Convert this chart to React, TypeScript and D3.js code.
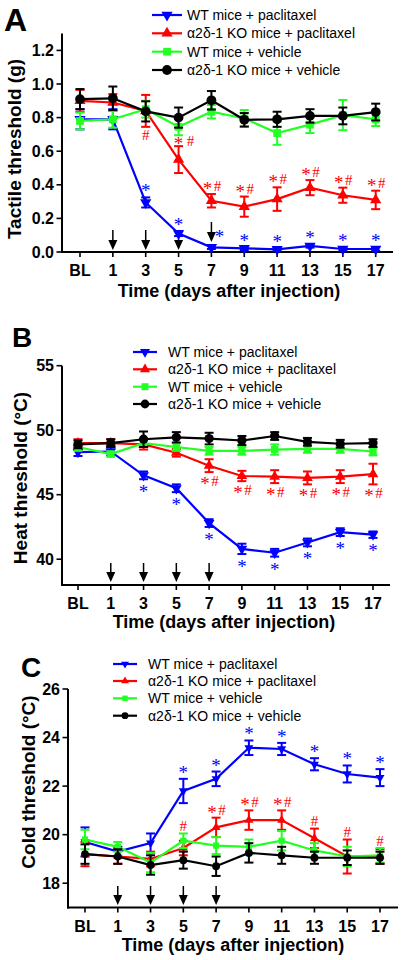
import React from "react";
import * as d3 from "d3";

// ---------- data ----------
const categories = ["BL", "1", "3", "5", "7", "9", "11", "13", "15", "17"];
const days = [-1, 1, 3, 5, 7, 9, 11, 13, 15, 17];
const injectionDays = [1, 3, 5, 7];
const seriesNames = [
  "WT mice + paclitaxel",
  "α2δ-1 KO mice + paclitaxel",
  "WT mice + vehicle",
  "α2δ-1 KO mice + vehicle",
];

// Panel A: tactile threshold (g)
const tactileWTPaclitaxel = [0.79, 0.79, 0.295, 0.11, 0.028, 0.022, 0.016, 0.036, 0.018, 0.018];
const tactileWTPaclitaxelSEM = [0.06, 0.06, 0.03, 0.015, 0.01, 0.01, 0.01, 0.01, 0.01, 0.01];
const tactileKOPaclitaxel = [0.9, 0.89, 0.84, 0.55, 0.305, 0.27, 0.315, 0.383, 0.338, 0.31];
const tactileKOPaclitaxelSEM = [0.065, 0.05, 0.095, 0.08, 0.04, 0.06, 0.07, 0.045, 0.045, 0.055];
const tactileWTVehicle = [0.78, 0.79, 0.85, 0.745, 0.835, 0.795, 0.708, 0.758, 0.815, 0.79];
const tactileWTVehicleSEM = [0.05, 0.05, 0.05, 0.05, 0.04, 0.05, 0.07, 0.05, 0.09, 0.04];
const tactileKOVehicle = [0.91, 0.915, 0.837, 0.8, 0.903, 0.787, 0.79, 0.81, 0.81, 0.833];
const tactileKOVehicleSEM = [0.06, 0.07, 0.06, 0.06, 0.055, 0.04, 0.045, 0.04, 0.05, 0.05];
const tactileTicks = [0, 0.2, 0.4, 0.6, 0.8, 1.0, 1.2];
const tactileWTPaclitaxelMarks = ["", "", "*", "*", "*", "*", "*", "*", "*", "*"];
const tactileKOPaclitaxelMarks = ["", "", "#", "* #", "*#", "*#", "*#", "*#", "*#", "*#"];

// Panel B: heat threshold (°C)
const heatWTPaclitaxel = [48.3, 48.35, 46.5, 45.5, 42.8, 40.8, 40.5, 41.3, 42.1, 41.9];
const heatWTPaclitaxelSEM = [0.3, 0.3, 0.3, 0.3, 0.3, 0.4, 0.3, 0.3, 0.3, 0.25];
const heatKOPaclitaxel = [49.0, 49.0, 48.9, 48.25, 47.25, 46.45, 46.4, 46.3, 46.4, 46.6];
const heatKOPaclitaxelSEM = [0.3, 0.3, 0.4, 0.3, 0.5, 0.4, 0.5, 0.5, 0.5, 0.8];
const heatWTVehicle = [48.7, 48.15, 49.0, 48.7, 48.4, 48.4, 48.5, 48.55, 48.55, 48.35];
const heatWTVehicleSEM = [0.3, 0.2, 0.3, 0.3, 0.3, 0.3, 0.4, 0.3, 0.3, 0.3];
const heatKOVehicle = [48.9, 49.0, 49.3, 49.45, 49.35, 49.2, 49.55, 49.1, 48.95, 49.0];
const heatKOVehicleSEM = [0.3, 0.3, 0.6, 0.4, 0.45, 0.35, 0.3, 0.3, 0.3, 0.3];
const heatTicks = [40, 45, 50, 55];
const heatWTPaclitaxelMarks = ["", "", "*", "*", "*", "*", "*", "*", "*", "*"];
const heatKOPaclitaxelMarks = ["", "", "", "", "*#", "*#", "*#", "*#", "*#", "*#"];

// Panel C: cold threshold (°C)
const coldWTPaclitaxel = [19.7, 19.3, 19.65, 21.8, 22.3, 23.58, 23.53, 22.9, 22.5, 22.35];
const coldWTPaclitaxelSEM = [0.6, 0.2, 0.4, 0.5, 0.3, 0.3, 0.25, 0.25, 0.35, 0.35];
const coldKOPaclitaxel = [19.2, 19.1, 19.0, 19.45, 20.3, 20.6, 20.6, 19.85, 19.1, 19.1];
const coldKOPaclitaxelSEM = [0.5, 0.3, 0.3, 0.3, 0.4, 0.4, 0.4, 0.4, 0.7, 0.3];
const coldWTVehicle = [19.8, 19.5, 18.85, 19.75, 19.55, 19.5, 19.75, 19.35, 19.1, 19.15];
const coldWTVehicleSEM = [0.4, 0.2, 0.4, 0.3, 0.35, 0.3, 0.4, 0.3, 0.4, 0.3];
const coldKOVehicle = [19.2, 19.1, 18.75, 18.95, 18.7, 19.25, 19.15, 19.05, 19.05, 19.05];
const coldKOVehicleSEM = [0.4, 0.3, 0.4, 0.35, 0.4, 0.4, 0.35, 0.25, 0.3, 0.25];
const coldTicks = [18, 20, 22, 24, 26];
const coldWTPaclitaxelMarks = ["", "", "", "*", "*", "*", "*", "*", "*", "*"];
const coldKOPaclitaxelMarks = ["", "", "", "#", "*#", "*#", "*#", "#", "#", "#"];

// ---------- styles ----------
const COLORS = ["#0000ff", "#ff0000", "#22ff22", "#000000"];
const SANS = "'Liberation Sans', Arial, sans-serif";
const SERIF = "'Liberation Serif', 'Times New Roman', serif";

type MarkCfg = {
  labels: string[];
  series: number;
  pos: "above" | "below";
  gap: number;
  overrides?: Record<number, { dx?: number; dy?: number; pos?: "above" | "below" }>;
};

type Panel = {
  letter: string;
  letterX: number;
  letterY: number;
  letterSize: number;
  axisX: number;
  axisRight: number;
  axisY: number;
  axisTop: number;
  blX: number;
  lastX: number;
  yDomain: [number, number];
  ticks: number[];
  tickFmt: (v: number) => string;
  tickLabelY: number;
  titleX: number;
  titleY: number;
  yTitle: string;
  yTitleX: number;
  yTitleY: number;
  yTitleSize: number;
  legendX1: number;
  legendX2: number;
  legendTextX: number;
  legendY: number[];
  legendMarker: number;
  marker: number;
  arrowTop: number;
  arrowTip: number;
  arrowShift?: Record<number, number>;
  values: number[][];
  sems: number[][];
  drawOrder: number[];
  marks: MarkCfg[];
};

const panels: Panel[] = [
  {
    letter: "A", letterX: 4, letterY: 31, letterSize: 32,
    axisX: 62, axisRight: 393, axisY: 252, axisTop: 33.6,
    blX: 80, lastX: 375.7,
    yDomain: [0, 1.3], ticks: tactileTicks, tickFmt: d3.format(".1f"),
    tickLabelY: 276, titleX: 229, titleY: 297,
    yTitle: "Tactile threshold (g)", yTitleX: 14, yTitleY: 149, yTitleSize: 19,
    legendX1: 152, legendX2: 182, legendTextX: 187, legendY: [15, 33.3, 51.7, 70],
    legendMarker: 1, marker: 1,
    arrowTop: 230, arrowTip: 250, arrowShift: { 7: -8 },
    values: [tactileWTPaclitaxel, tactileKOPaclitaxel, tactileWTVehicle, tactileKOVehicle],
    sems: [tactileWTPaclitaxelSEM, tactileKOPaclitaxelSEM, tactileWTVehicleSEM, tactileKOVehicleSEM],
    drawOrder: [0, 1, 2, 3],
    marks: [
      { labels: tactileWTPaclitaxelMarks, series: 0, pos: "above", gap: 9, overrides: { 4: { dx: 8, dy: -3 } } },
      { labels: tactileKOPaclitaxelMarks, series: 1, pos: "above", gap: 8, overrides: { 2: { pos: "below" }, 3: { dx: 6, dy: 3 } } },
    ],
  },
  {
    letter: "B", letterX: 12, letterY: 347, letterSize: 28,
    axisX: 62, axisRight: 390, axisY: 585, axisTop: 365.7,
    blX: 78, lastX: 373,
    yDomain: [38, 55], ticks: heatTicks, tickFmt: d3.format("d"),
    tickLabelY: 609, titleX: 224, titleY: 628,
    yTitle: "Heat threshold (°C)", yTitleX: 20, yTitleY: 478, yTitleSize: 19,
    legendX1: 133, legendX2: 157, legendTextX: 168, legendY: [352, 369.3, 386.7, 404],
    legendMarker: 0.9, marker: 0.95,
    arrowTop: 563, arrowTip: 582,
    values: [heatWTPaclitaxel, heatKOPaclitaxel, heatWTVehicle, heatKOVehicle],
    sems: [heatWTPaclitaxelSEM, heatKOPaclitaxelSEM, heatWTVehicleSEM, heatKOVehicleSEM],
    drawOrder: [0, 1, 2, 3],
    marks: [
      { labels: heatWTPaclitaxelMarks, series: 0, pos: "below", gap: 10 },
      { labels: heatKOPaclitaxelMarks, series: 1, pos: "below", gap: 9 },
    ],
  },
  {
    letter: "C", letterX: 21, letterY: 677, letterSize: 28,
    axisX: 68, axisRight: 398, axisY: 907.5, axisTop: 689,
    blX: 85, lastX: 380,
    yDomain: [17, 26], ticks: coldTicks, tickFmt: d3.format("d"),
    tickLabelY: 932, titleX: 233, titleY: 951,
    yTitle: "Cold threshold (°C)", yTitleX: 28, yTitleY: 782, yTitleSize: 19,
    legendX1: 113, legendX2: 137, legendTextX: 148, legendY: [664, 681, 698.3, 715.7],
    legendMarker: 0.7, marker: 0.8,
    arrowTop: 886, arrowTip: 905,
    values: [coldWTPaclitaxel, coldKOPaclitaxel, coldWTVehicle, coldKOVehicle],
    sems: [coldWTPaclitaxelSEM, coldKOPaclitaxelSEM, coldWTVehicleSEM, coldKOVehicleSEM],
    drawOrder: [0, 1, 2, 3],
    marks: [
      { labels: coldWTPaclitaxelMarks, series: 0, pos: "above", gap: 9 },
      { labels: coldKOPaclitaxelMarks, series: 1, pos: "above", gap: 8, overrides: { 3: { dy: -7 } } },
    ],
  },
];

const symbolTypes = [d3.symbolTriangle, d3.symbolTriangle, d3.symbolSquare, d3.symbolCircle];
const symbolSizes = [55, 55, 60, 75];
const symbolRotate = [180, 0, 0, 0];

function Symbol({ i, x, y, scale }: { i: number; x: number; y: number; scale: number }) {
  const d = d3.symbol().type(symbolTypes[i]).size(symbolSizes[i] * scale * scale)() as string;
  return (
    <path
      d={d}
      transform={`translate(${x},${y}) rotate(${symbolRotate[i]})`}
      fill={COLORS[i]}
    />
  );
}

function Mark({ label, cx, cy, color }: { label: string; cx: number; cy: number; color: string }) {
  const chars = label.replace(" ", "").split("");
  const wide = label.includes(" ");
  const offs = chars.length === 1 ? [0] : wide ? [-6, 6] : [-5, 5];
  return (
    <g>
      {chars.map((c, k) => (
        <text
          key={k}
          x={cx + offs[k]}
          y={cy + (c === "*" ? 9 : 5)}
          fontSize={c === "*" ? 19 : 15}
          fontFamily={SERIF}
          textAnchor="middle"
          fill={color}
        >
          {c}
        </text>
      ))}
    </g>
  );
}

function PanelView({ p }: { p: Panel }) {
  const x = d3.scaleLinear().domain([days[0], days[days.length - 1]]).range([p.blX, p.lastX]);
  const y = d3.scaleLinear().domain(p.yDomain).range([p.axisY, p.axisTop]);
  const line = d3
    .line<number>()
    .x((_, k) => x(days[k]))
    .y((v) => y(v));
  const cap = 4.5;

  return (
    <g>
      <text x={p.letterX} y={p.letterY} fontSize={p.letterSize} fontWeight="bold" fontFamily={SANS}>
        {p.letter}
      </text>

      {/* legend */}
      {seriesNames.map((name, i) => (
        <g key={name}>
          <line x1={p.legendX1} x2={p.legendX2} y1={p.legendY[i]} y2={p.legendY[i]} stroke={COLORS[i]} strokeWidth={2.2} />
          <Symbol i={i} x={(p.legendX1 + p.legendX2) / 2} y={p.legendY[i]} scale={p.legendMarker} />
          <text x={p.legendTextX} y={p.legendY[i] + 5} fontSize={14} fontFamily={SANS} fill="#000">
            {name}
          </text>
        </g>
      ))}

      {/* axes */}
      <line x1={p.axisX} x2={p.axisX} y1={p.axisTop} y2={p.axisY + 1} stroke="#000" strokeWidth={2} />
      <line x1={p.axisX - 1} x2={p.axisRight} y1={p.axisY} y2={p.axisY} stroke="#000" strokeWidth={2} />
      {p.ticks.map((t) => (
        <g key={t}>
          <line x1={p.axisX - 5.5} x2={p.axisX} y1={y(t)} y2={y(t)} stroke="#000" strokeWidth={1.6} />
          <text
            x={p.axisX - 8}
            y={y(t) + 5.5}
            fontSize={16}
            fontWeight="bold"
            fontFamily={SANS}
            textAnchor="end"
          >
            {p.tickFmt(t)}
          </text>
        </g>
      ))}
      {categories.map((c, k) => (
        <g key={c}>
          <line x1={x(days[k])} x2={x(days[k])} y1={p.axisY} y2={p.axisY + 5} stroke="#000" strokeWidth={1.6} />
          <text x={x(days[k])} y={p.tickLabelY} fontSize={16} fontWeight="bold" fontFamily={SANS} textAnchor="middle">
            {c}
          </text>
        </g>
      ))}
      <text x={p.titleX} y={p.titleY} fontSize={18} fontWeight="bold" fontFamily={SANS} textAnchor="middle">
        Time (days after injection)
      </text>
      <text
        transform={`translate(${p.yTitleX},${p.yTitleY}) rotate(-90)`}
        fontSize={p.yTitleSize}
        fontWeight="bold"
        fontFamily={SANS}
        textAnchor="middle"
        dominantBaseline="central"
      >
        {p.yTitle}
      </text>

      {/* injection arrows */}
      {injectionDays.map((d) => {
        const s = (p.arrowShift && p.arrowShift[d]) || 0;
        const top = p.arrowTop + s;
        const tip = p.arrowTip + s;
        const xx = x(d);
        return (
          <g key={d}>
            <line x1={xx} x2={xx} y1={top} y2={tip - 8} stroke="#000" strokeWidth={1.5} />
            <path d={`M${xx - 4.5},${tip - 10}L${xx + 4.5},${tip - 10}L${xx},${tip}Z`} fill="#000" />
          </g>
        );
      })}

      {/* series */}
      {p.drawOrder.map((i) => {
        const vals = p.values[i];
        const sem = p.sems[i];
        return (
          <g key={i}>
            <path d={line(vals) as string} fill="none" stroke={COLORS[i]} strokeWidth={2.2} />
            {vals.map((v, k) => {
              const xx = x(days[k]);
              const yt = y(v + sem[k]);
              const yb = y(v - sem[k]);
              return (
                <g key={k} stroke={COLORS[i]} strokeWidth={2}>
                  <line x1={xx} x2={xx} y1={yt} y2={yb} />
                  <line x1={xx - cap} x2={xx + cap} y1={yt} y2={yt} />
                  <line x1={xx - cap} x2={xx + cap} y1={yb} y2={yb} />
                </g>
              );
            })}
            {vals.map((v, k) => (
              <Symbol key={k} i={i} x={x(days[k])} y={y(v)} scale={p.marker} />
            ))}
          </g>
        );
      })}

      {/* significance marks */}
      {p.marks.map((m, mi) =>
        m.labels.map((lab, k) => {
          if (!lab) return null;
          const ov = (m.overrides && m.overrides[k]) || {};
          const pos = ov.pos || m.pos;
          const v = p.values[m.series][k];
          const e = p.sems[m.series][k];
          const cy =
            pos === "above" ? y(v + e) - m.gap + (ov.dy || 0) : y(v - e) + m.gap + (ov.dy || 0);
          const cx = x(days[k]) + (ov.dx || 0) + (lab.length > 1 && !lab.includes(" ") ? 1 : 0);
          return <Mark key={`${mi}-${k}`} label={lab} cx={cx} cy={cy} color={COLORS[m.series]} />;
        })
      )}
    </g>
  );
}

export default function App() {
  return (
    <svg
      width={402}
      height={960}
      viewBox="0 0 402 960"
      style={{ position: "absolute", left: 0, top: 0, background: "#fff" }}
    >
      <rect width={402} height={960} fill="#fff" />
      {panels.map((p) => (
        <PanelView key={p.letter} p={p} />
      ))}
    </svg>
  );
}
